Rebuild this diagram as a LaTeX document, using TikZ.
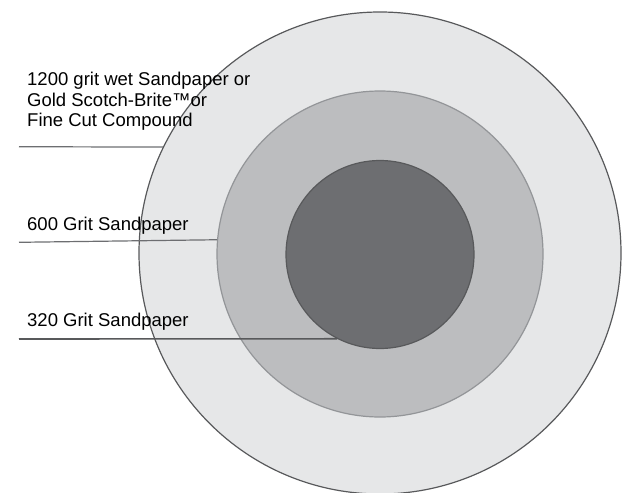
\documentclass[tikz,border=0pt]{standalone}
\usepackage{fontspec}
\setmainfont{Liberation Sans}
\usepackage{tikz}
\usepackage{xcolor}
\definecolor{Rim}{HTML}{58595B}
\definecolor{MidRim}{HTML}{939598}
\definecolor{Lead}{HTML}{6D6E71}
\definecolor{PadLight}{HTML}{E6E7E8}
\definecolor{PadMid}{HTML}{BCBDBF}
\definecolor{PadDark}{HTML}{6D6E71}

\begin{document}
\begin{tikzpicture}[
  x=1pt,y=-1pt,
  ring/.style={circle,inner sep=0pt,line width=1.2pt},
  label/.style={anchor=base west,inner sep=0pt,align=left,font=\fontsize{18.5}{20.7}\selectfont},
  lead/.style={draw=Lead,line width=1.2pt}
]
\useasboundingbox (0,0) rectangle (625,493);
\node[ring,draw=Rim,fill=PadLight,minimum size=482pt] (outer) at (380,253) {};
\node[ring,draw=MidRim,fill=PadMid,minimum size=326pt] (middle) at (380,254) {};
\node[ring,draw=Rim,fill=PadDark,minimum size=188pt] (inner) at (380,254.5) {};
% labels
\node[label] (fine) at (27,126.7) {1200 grit wet Sandpaper or\\Gold Scotch-Brite™or\\Fine Cut Compound};
\node[label] (g600) at (27,230.7) {600 Grit Sandpaper};
\node[label] (g320) at (27,326.7) {320 Grit Sandpaper};
% leader lines
\coordinate (end1) at (19,146.7);
\coordinate (end2) at (19,242.3);
\coordinate (end3) at (19,339);
\draw[lead] (end1) -- (outer.154.1);
\draw[lead] (end2) -- (middle.175.8);
\draw[lead,draw=Rim,line width=1.6pt] (end3) -- (inner.243.8);
\end{tikzpicture}
\end{document}
